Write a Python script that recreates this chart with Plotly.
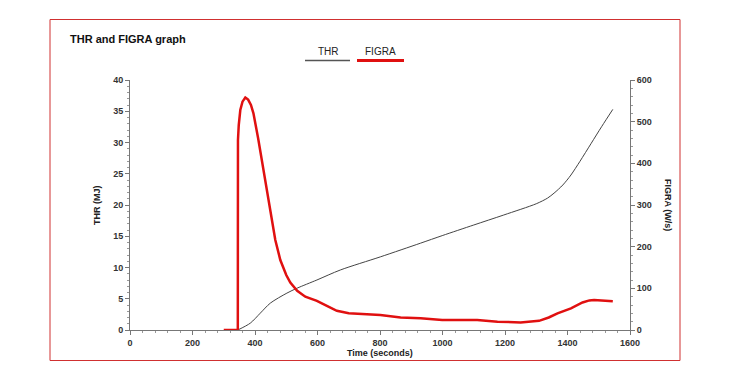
import plotly.graph_objects as go

# ---- data ----
thr_time = [345, 385, 417, 449, 502, 535, 598, 673, 801, 930, 999, 1100, 1196, 1300, 1336, 1357, 1385, 1411, 1440, 1475, 1510, 1545]
thr_mj = [0, 1.1, 2.7, 4.3, 5.9, 6.7, 8.0, 9.6, 11.7, 13.9, 15.1, 16.8, 18.4, 20.2, 21.1, 21.9, 23.2, 24.8, 27.0, 29.8, 32.6, 35.3]

figra_time = [300, 345, 345.5, 348, 353, 360, 369, 378, 387, 395, 410, 427, 449, 465, 481, 500, 513, 535, 561, 598, 630, 662, 700, 801, 866, 930, 999, 1111, 1176, 1250, 1309, 1340, 1368, 1411, 1448, 1470, 1485, 1520, 1545]
figra_ws = [0, 0, 456, 492, 528, 548, 558, 553, 540, 520, 460, 384, 288, 216, 168, 132, 114, 94, 80, 70, 58, 46, 40, 36, 30, 28, 24, 24, 20, 18, 22, 30, 40, 52, 66, 71, 72, 70, 69]

title_text = "THR and FIGRA graph"
x_title = "Time (seconds)"
y1_title = "THR (MJ)"
y2_title = "FIGRA (W/s)"

# ---- layout geometry (pixels, in screenshot coordinates) ----
W, H = 750, 371
OFF = 8  # page body margin
PL, PR, PT, PB = 130, 630, 80, 330


def px(x):
    return (x - PL) / (PR - PL)


def py(y):
    return (PB - y) / (PB - PT)


fig = go.Figure()
fig.add_trace(go.Scatter(x=thr_time, y=thr_mj, mode="lines", name="THR",
                         line=dict(color="#444444", width=1, shape="spline", smoothing=0.8),
                         yaxis="y"))
fig.add_trace(go.Scatter(x=figra_time, y=figra_ws, mode="lines", name="FIGRA",
                         line=dict(color="#e01010", width=2.5), yaxis="y2"))

tickfont = dict(family="Liberation Sans, Arial", size=9, color="#333333", weight="bold")
axis_common = dict(showgrid=False, zeroline=False, showline=True, linecolor="#777777",
                   linewidth=1, ticks="outside", ticklen=4, tickcolor="#777777",
                   tickfont=tickfont)

fig.update_layout(
    width=W, height=H,
    margin=dict(l=PL - OFF, r=W - PR + OFF, t=PT - OFF, b=H - PB + OFF),
    paper_bgcolor="white", plot_bgcolor="white",
    showlegend=False,
    xaxis=dict(range=[0, 1600], dtick=200, tick0=0,
               minor=dict(dtick=40, ticks="outside", ticklen=2, tickcolor="#999999"),
               **axis_common),
    yaxis=dict(range=[0, 40], dtick=5, tick0=0,
               minor=dict(dtick=1, ticks="outside", ticklen=2, tickcolor="#999999"),
               **axis_common),
    yaxis2=dict(range=[0, 600], dtick=100, tick0=0, overlaying="y", side="right",
                minor=dict(dtick=20, ticks="outside", ticklen=2, tickcolor="#999999"),
                **axis_common),
)

lab = dict(family="Liberation Sans, Arial", size=9, color="#222222", weight="bold")
ann = [
    dict(text=title_text, x=px(68), y=py(39), xanchor="left", yanchor="middle",
         font=dict(family="Liberation Sans, Arial", size=11, color="#111111", weight="bold")),
    dict(text=x_title, x=px(380), y=py(353), xanchor="center", yanchor="middle", font=lab),
    dict(text=y1_title, x=px(97), y=py(205), xanchor="center", yanchor="middle",
         textangle=-90, font=lab),
    dict(text=y2_title, x=px(668), y=py(205), xanchor="center", yanchor="middle",
         textangle=90, font=lab),
    dict(text="THR", x=px(328), y=py(52), xanchor="center", yanchor="middle",
         font=dict(family="Liberation Sans, Arial", size=10, color="#222222")),
    dict(text="FIGRA", x=px(380), y=py(52), xanchor="center", yanchor="middle",
         font=dict(family="Liberation Sans, Arial", size=10, color="#222222")),
]
for a in ann:
    a.update(xref="paper", yref="paper", showarrow=False)
fig.update_layout(annotations=ann)

shapes = [
    dict(type="rect", x0=px(50), x1=px(680), y0=py(19.5), y1=py(360.5),
         line=dict(color="#d03030", width=1)),
    dict(type="line", x0=px(305), x1=px(350), y0=py(60.5), y1=py(60.5),
         line=dict(color="#555555", width=1.5)),
    dict(type="line", x0=px(357), x1=px(404), y0=py(60.5), y1=py(60.5),
         line=dict(color="#e01010", width=3)),
]
for s in shapes:
    s.update(xref="paper", yref="paper")
fig.update_layout(shapes=shapes)

fig.write_html("out.html")
